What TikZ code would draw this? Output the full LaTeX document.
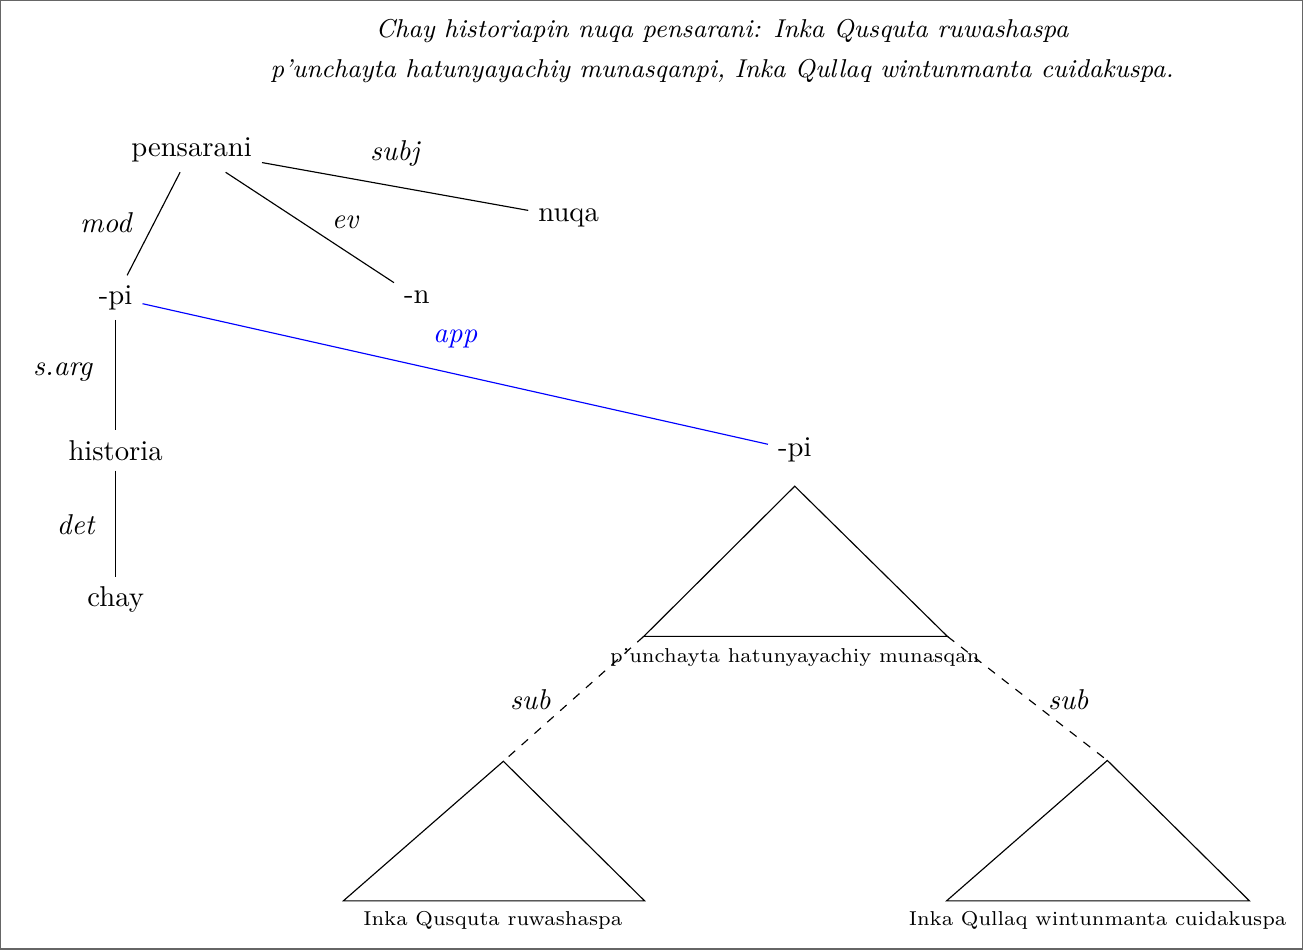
\documentclass[tikz,border=0pt]{standalone}
\usepackage{amsmath,amssymb}
\usepackage{xcolor}
\usepackage{tikz}

\begin{document}
\begin{tikzpicture}[
  rel/.style={font=\itshape},
  rooftext/.style={font=\scriptsize, inner sep=1pt}
  ]
  % frame
  \draw[gray!80!black] (0,0) rectangle (15.95,11.62);
  % sentence
  \node[font=\small\itshape, align=center] (title) at (8.84,11.00)
    {Chay historiapin nuqa pensarani: Inka Qusquta ruwashaspa\\[3pt]
     p'unchayta hatunyayachiy munasqanpi, Inka Qullaq wintunmanta cuidakuspa.};
  % words
  \node (pens) at (2.34,9.79) {pensarani};
  \node (nuqa) at (6.96,8.96) {nuqa};
  \node (pione) at (1.41,7.98) {-pi};
  \node (n) at (5.10,7.98) {-n};
  \node (hist) at (1.41,6.11) {historia};
  \node (chay) at (1.41,4.28) {chay};
  \node (pitwo) at (9.73,6.11) {-pi};
  % dependencies
  \draw (pens) -- (nuqa);
  \draw (pens) -- (n);
  \draw (pens) -- (pione);
  \draw (pione) -- (hist);
  \draw (hist) -- (chay);
  \draw[blue] (pione) -- (pitwo);
  % relation labels
  \node[rel] (subj) at (4.83,9.75) {subj};
  \node[rel] (mod) at (1.29,8.90) {mod};
  \node[rel] (ev) at (4.22,8.90) {ev};
  \node[rel] (sarg) at (0.76,7.07) {s.arg};
  \node[rel] (det) at (0.92,5.20) {det};
  \node[rel, text=blue] (app) at (5.57,7.47) {app};
  % roofs
  \coordinate (top) at (9.73,5.67);
  \coordinate (topL) at (7.88,3.83);
  \coordinate (topR) at (11.60,3.83);
  \draw (top) -- (topL) -- (topR) -- cycle;
  \node[rooftext] (punch) at (9.73,3.57) {p'unchayta hatunyayachiy munasqan};
  \coordinate (qus) at (6.16,2.30);
  \coordinate (qusL) at (4.20,0.59);
  \coordinate (qusR) at (7.89,0.59);
  \draw (qus) -- (qusL) -- (qusR) -- cycle;
  \node[rooftext] (inkaqus) at (6.03,0.35) {Inka Qusquta ruwashaspa};
  \coordinate (qul) at (13.56,2.31);
  \coordinate (qulL) at (11.59,0.59);
  \coordinate (qulR) at (15.30,0.59);
  \draw (qul) -- (qulL) -- (qulR) -- cycle;
  \node[rooftext] (inkaqul) at (13.44,0.35) {Inka Qullaq wintunmanta cuidakuspa};
  % subordinate clauses
  \draw[dashed] (topL) -- (qus);
  \draw[dashed] (topR) -- (qul);
  \node[rel] (subl) at (6.49,3.05) {sub};
  \node[rel] (subr) at (13.08,3.05) {sub};
\end{tikzpicture}
\end{document}
